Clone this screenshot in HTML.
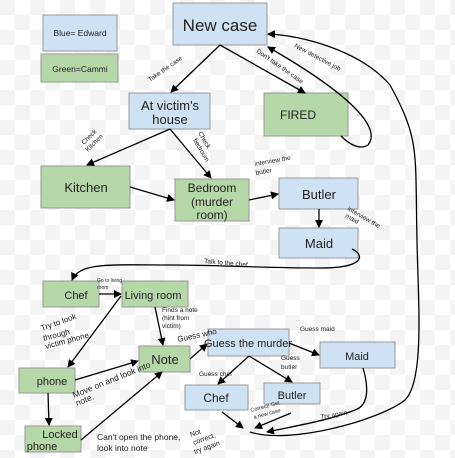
<!DOCTYPE html>
<html><head><meta charset="utf-8"><style>
html,body{margin:0;padding:0;background:#fff}
svg{display:block}
text{font-family:"Liberation Sans",sans-serif;fill:#222}
</style></head><body>
<svg width="455" height="458" viewBox="0 0 455 458" xmlns="http://www.w3.org/2000/svg">
<defs>
<pattern id="ck" width="30" height="30" patternUnits="userSpaceOnUse">
<rect width="30" height="30" fill="#fff"/><rect width="15" height="15" fill="#f4f4f4"/><rect x="15" y="15" width="15" height="15" fill="#f4f4f4"/>
</pattern>
<marker id="a" markerWidth="8" markerHeight="8" refX="7" refY="4" orient="auto" markerUnits="userSpaceOnUse"><path d="M0,0 L8,4 L0,8 z" fill="#000"/></marker>
</defs>
<rect width="455" height="458" fill="url(#ck)"/>
<g stroke="#999" stroke-width="1">
<rect x="43" y="15" width="74" height="36" fill="#cfe2f3"/>
<rect x="41" y="54" width="77" height="28" fill="#b6d7a8"/>
<rect x="173" y="3" width="94" height="42" fill="#cfe2f3"/>
<rect x="129" y="93" width="81" height="36" fill="#cfe2f3"/>
<rect x="264" y="93" width="84" height="43" fill="#b6d7a8"/>
<rect x="41" y="166" width="89" height="42" fill="#b6d7a8"/>
<rect x="175" y="179" width="74" height="42" fill="#b6d7a8"/>
<rect x="279" y="178" width="79" height="31" fill="#cfe2f3"/>
<rect x="279" y="228" width="79" height="30" fill="#cfe2f3"/>
<rect x="43" y="281" width="56" height="26" fill="#b6d7a8"/>
<rect x="122" y="281" width="66" height="26" fill="#b6d7a8"/>
<rect x="139" y="346" width="51" height="26" fill="#b6d7a8"/>
<rect x="208" y="329" width="81" height="27" fill="#cfe2f3"/>
<rect x="320" y="342" width="75" height="26" fill="#cfe2f3"/>
<rect x="185" y="385" width="63" height="25" fill="#cfe2f3"/>
<rect x="264" y="383" width="56" height="21" fill="#cfe2f3"/>
<rect x="19" y="368" width="56" height="25" fill="#b6d7a8"/>
<rect x="25" y="426" width="56" height="26" fill="#b6d7a8"/>
</g>
<g stroke="#000" stroke-width="1.3" fill="none" marker-end="url(#a)">
<line x1="220" y1="45" x2="171" y2="92"/>
<line x1="220" y1="45" x2="305" y2="93"/>
<line x1="170" y1="129" x2="87" y2="165"/>
<line x1="170" y1="129" x2="211" y2="178"/>
<line x1="130" y1="187" x2="174" y2="200"/>
<line x1="249" y1="200" x2="278" y2="194"/>
<line x1="319" y1="209" x2="319" y2="227"/>
<path d="M341,136 C350,145 360,150 368,145 C380,130 360,100 268,47"/>
<path d="M250,432 C290,445 380,420 405,400 C425,380 418,300 417,240 C415,150 420,140 390,85 C360,50 300,35 268,34"/>
<path d="M352,249 C365,255 365,268 320,268 C260,268 220,265 170,265 C110,265 80,262 72,280"/>
<line x1="99" y1="294" x2="121" y2="294"/>
<line x1="121" y1="296" x2="68" y2="367"/>
<line x1="155" y1="307" x2="163" y2="345"/>
<line x1="75" y1="380" x2="138" y2="361"/>
<line x1="48" y1="393" x2="49" y2="425"/>
<line x1="81" y1="440" x2="162" y2="372"/>
<line x1="190" y1="359" x2="207" y2="344"/>
<line x1="289" y1="343" x2="319" y2="355"/>
<line x1="249" y1="356" x2="218" y2="384"/>
<line x1="249" y1="356" x2="292" y2="382"/>
<line x1="222" y1="412" x2="243" y2="428"/>
<line x1="291" y1="413" x2="255" y2="428"/>
<path d="M363,368 C368,385 370,405 355,410 C330,420 300,425 267,432"/>
</g>
<g font-size="8.5" text-anchor="middle">
<text x="80" y="36">Blue= Edward</text>
<text x="80" y="72">Green=Cammi</text>
</g>
<g font-size="17" text-anchor="middle">
<text x="220" y="31">New case</text>
</g>
<g font-size="13" text-anchor="middle">
<text x="170" y="110">At victim's</text><text x="170" y="124">house</text>
<text x="298" y="119" font-size="12">FIRED</text>
<text x="86" y="192">Kitchen</text>
<text x="212" y="192" font-size="12">Bedroom</text>
<text x="212" y="206" font-size="12">(murder</text>
<text x="212" y="219" font-size="12">room)</text>
<text x="319" y="199">Butler</text>
<text x="319" y="248">Maid</text>
<text x="76" y="299" font-size="11">Chef</text>
<text x="153" y="299" font-size="11">Living room</text>
<text x="165" y="364">Note</text>
<text x="248" y="347" font-size="11">Guess the murder</text>
<text x="357" y="360" font-size="11">Maid</text>
<text x="216" y="402" font-size="12">Chef</text>
<text x="292" y="399" font-size="11">Butler</text>
<text x="52" y="385" font-size="11">phone</text>
<text x="60" y="438" font-size="11">Locked</text>
<text x="42" y="450" font-size="11">phone</text>
</g>
<g font-size="6.5">
<text transform="translate(150,82) rotate(-35)">Take the case</text>
<text transform="translate(256,52) rotate(35)">Don't take the case</text>
<text transform="translate(294,47) rotate(28)">New detective job</text>
<text transform="translate(84,145) rotate(-45)">Check</text>
<text transform="translate(88,152) rotate(-45)">Kitchen</text>
<text transform="translate(198,133) rotate(60)">Check</text>
<text transform="translate(193,140) rotate(60)">bedroom</text>
<text transform="translate(255,166) rotate(-10)">interview the</text>
<text transform="translate(256,175) rotate(-10)">butler</text>
<text transform="translate(347,210) rotate(30)">interview the</text>
<text transform="translate(345,217) rotate(30)">maid</text>
<text transform="translate(204,263) rotate(5)">Talk to the chef</text>
<text x="97" y="282" font-size="5">Go to living</text><text x="97" y="289" font-size="5">room</text>
<text x="162" y="312">Finds a note</text><text x="162" y="320">(hint from</text><text x="162" y="328">victim)</text>
<text transform="translate(178,342) rotate(-12)" font-size="8">Guess who</text>
<text x="300" y="331">Guess maid</text>
<text x="281" y="360">Guess</text><text x="281" y="369">butler</text>
<text x="199" y="376">Guess chef</text>
<text transform="translate(251,412) rotate(-15)" font-size="5.5">Correct! Get</text>
<text transform="translate(254,419) rotate(-15)" font-size="5.5">a new case</text>
<text transform="translate(321,419) rotate(-10)">Try again</text>
<text transform="translate(191,437) rotate(-20)" font-size="7">Not</text>
<text transform="translate(194,445) rotate(-20)" font-size="7">correct,</text>
<text transform="translate(195,454) rotate(-20)" font-size="7">try again</text>
</g>
<g font-size="8">
<text transform="translate(42,331) rotate(-20)">Try to look</text>
<text transform="translate(44,341) rotate(-15)">through</text>
<text transform="translate(46,349) rotate(-15)">victim phone</text>
<text transform="translate(74,398) rotate(-22)" font-size="8.5">Move on and look into</text>
<text transform="translate(77,406) rotate(-22)" font-size="8.5">note.</text>
<text x="97" y="440" font-size="8.5">Can't open the phone,</text>
<text x="97" y="451" font-size="8.5">look into note</text>
</g>
</svg>
</body></html>
